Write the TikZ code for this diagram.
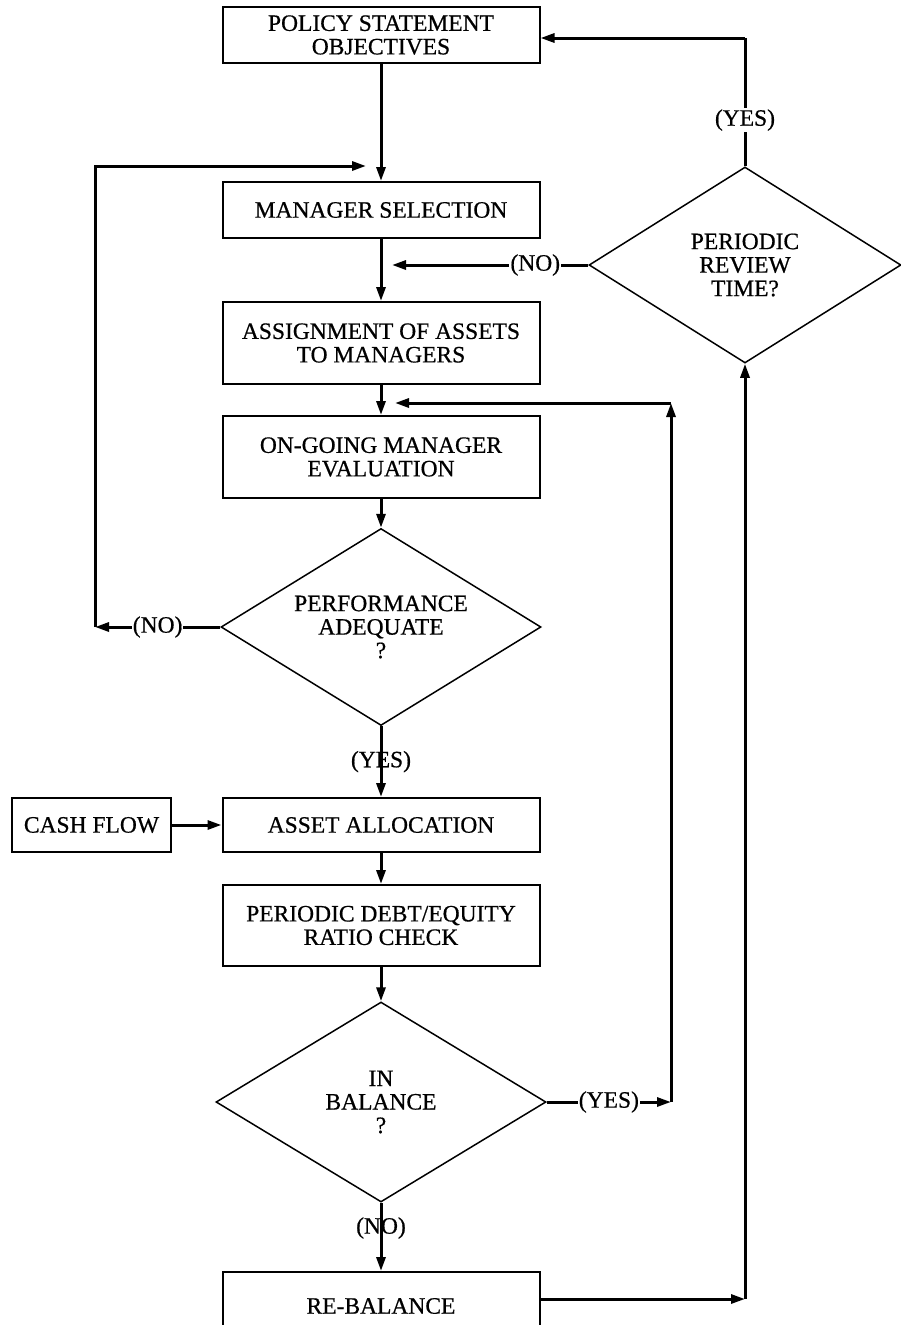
\documentclass[tikz,border=0pt]{standalone}
\usepackage{fontspec}
\setmainfont[FakeBold=0.6]{Liberation Serif}
\usetikzlibrary{shapes.geometric,arrows.meta}
\begin{document}
\begin{tikzpicture}[x=1pt,y=-1pt,
  font=\fontsize{23.5}{23.5}\selectfont,
  box/.style={draw,line width=2pt,rectangle,minimum width=317pt,align=center,inner sep=0pt},
  dia/.style={draw,line width=1.5pt,diamond,aspect=1.6,inner sep=0pt,align=center},
  conn/.style={line width=3pt},
  arr/.style={conn,-{Triangle[length=14pt,width=9pt]}},
  lbl/.style={fill=white,inner sep=1pt}]
\useasboundingbox (0,0) rectangle (901,1325);
\fill[white] (0,0) rectangle (901,1325);

\node[box,minimum height=56pt] (policy) at (381,35) {POLICY STATEMENT\\OBJECTIVES};
\node[box,minimum height=56pt] (mgr) at (381,210) {MANAGER SELECTION};
\node[box,minimum height=82pt] (assign) at (381,343) {ASSIGNMENT OF ASSETS\\TO MANAGERS};
\node[box,minimum height=82pt] (ongo) at (381,457) {ON-GOING MANAGER\\EVALUATION};
\node[dia,minimum width=320pt,minimum height=197pt] (perf) at (381,627) {PERFORMANCE\\ADEQUATE\\?};
\node[box,minimum height=54pt] (asset) at (381,825) {ASSET ALLOCATION};
\node[box,minimum width=159pt,minimum height=54pt] (cash) at (91.5,825) {CASH FLOW};
\node[box,minimum height=81pt] (ratio) at (381,925.5) {PERIODIC DEBT/EQUITY\\RATIO CHECK};
\node[dia,minimum width=330pt,minimum height=200pt] (inbal) at (381,1102) {IN\\BALANCE\\?};
\node[box,minimum height=68pt] (rebal) at (381,1306) {RE-BALANCE};
\node[dia,minimum width=312pt,minimum height=196pt] (review) at (745,265) {PERIODIC\\REVIEW\\TIME?};

\coordinate (loopL) at (95,627);
\coordinate (mgrIn) at (366,166);
\coordinate (yesR) at (671,1102);
\coordinate (retR) at (671,403);
\coordinate (ongoIn) at (395,403);
\coordinate (rbR) at (745,1299);
\coordinate (noT) at (392,265);
\coordinate (topR) at (745,38);

\draw[arr] (policy.south) -- (mgr.north);
\draw[arr] (mgr.south) -- (assign.north);
\draw[arr] (assign.south) -- (ongo.north);
\draw[arr] (ongo.south) -- (perf.north);

\draw[arr] (perf.west) -- node[lbl]{(NO)} (loopL);
\draw[arr] (loopL) |- (mgrIn);

\draw[arr] (perf.south) -- node{(YES)} (asset.north);
\draw[arr] (cash.east) -- (asset.west);
\draw[arr] (asset.south) -- (ratio.north);
\draw[arr] (ratio.south) -- (inbal.north);

\draw[arr] (inbal.east) -- node[lbl]{(YES)} (yesR);
\draw[arr] (yesR) -- (retR);
\draw[arr] (retR) -- (ongoIn);

\draw[arr] (inbal.south) -- node[pos=0.37]{(NO)} (rebal.north);
\draw[arr] (rebal.east |- rbR) -- (rbR);
\draw[arr] (rbR) -- (review.south);

\draw[arr] (review.west) -- node[lbl,pos=0.27]{(NO)} (noT);
\draw[conn] (review.north) -- node[lbl,pos=0.36]{(YES)} (topR);
\draw[arr] (topR) -- (topR -| policy.east);
\end{tikzpicture}
\end{document}
